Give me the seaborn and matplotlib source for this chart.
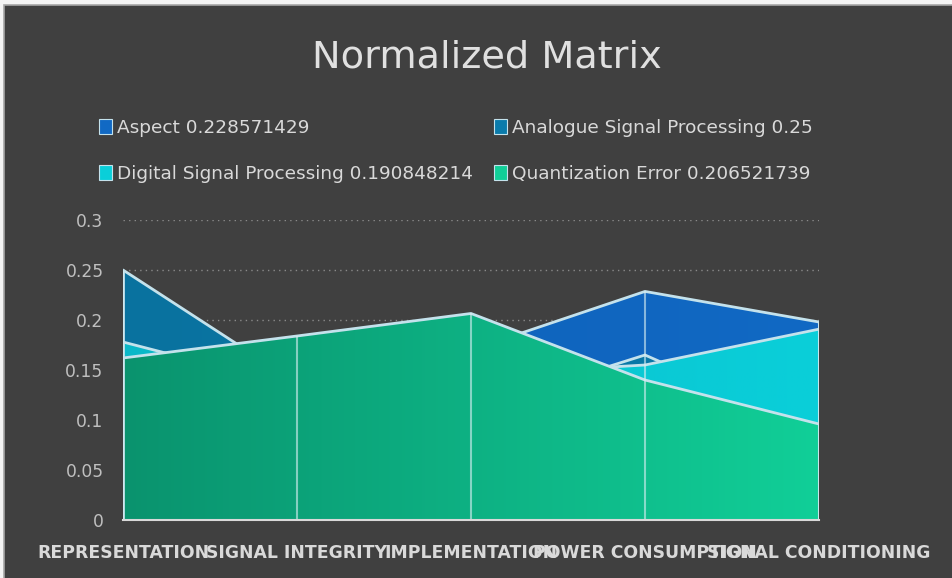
import numpy as np
import pandas as pd
import seaborn as sns
import matplotlib.pyplot as plt
from matplotlib.patches import Patch, Rectangle
from matplotlib.colors import LinearSegmentedColormap

categories = ["REPRESENTATION", "SIGNAL INTEGRITY", "IMPLEMENTATION",
              "POWER CONSUMPTION", "SIGNAL CONDITIONING"]
aspect = [0.170, 0.150, 0.170, 0.228571429, 0.198]
analogue = [0.250, 0.137, 0.110, 0.165, 0.088]
digital = [0.178, 0.133, 0.145, 0.155, 0.190848214]
quantization = [0.162, 0.184, 0.206521739, 0.140, 0.096]

names = ["Aspect 0.228571429", "Analogue Signal Processing 0.25",
         "Digital Signal Processing 0.190848214", "Quantization Error 0.206521739"]
values = [aspect, analogue, digital, quantization]
# left / right colours of the horizontal gradient of each area
grads = [("#0e5fb6", "#1169c4"), ("#09729f", "#0a7bab"),
         ("#0ab8c8", "#0acfd9"), ("#0a936e", "#11cf98")]

bg = "#404040"
edge = "#c4e2ec"

sns.set_theme(style="dark")
plt.rcParams["font.family"] = ["DejaVu Sans"]

fig = plt.figure(figsize=(9.53, 5.78), dpi=100, facecolor="#f4f4f4")
# chart area with a thin border, small light margin on top and left
fig.patches.append(Rectangle((4 / 953, -0.01), 1.0, 1 - 5 / 578 + 0.01,
                             transform=fig.transFigure, facecolor=bg,
                             edgecolor="#a6a6a6", lw=1.2, zorder=-10))

ax = fig.add_axes([123 / 953, 58 / 578, 696 / 953, 300 / 578])
ax.set_facecolor(bg)

x = np.arange(len(categories))
df = pd.DataFrame({"category": categories})

for i, (name, vals, (c0, c1)) in enumerate(zip(names, values, grads)):
    z = 2 + i * 3
    poly = ax.fill_between(x, 0, vals, facecolor="none", edgecolor="none", zorder=z)
    cmap = LinearSegmentedColormap.from_list("g%d" % i, [c0, c1])
    img = ax.imshow(np.linspace(0, 1, 256).reshape(1, -1), cmap=cmap, aspect="auto",
                    extent=[0, len(categories) - 1, 0, 0.3], zorder=z)
    img.set_clip_path(poly.get_paths()[0], transform=ax.transData)
    sns.lineplot(x=x, y=vals, ax=ax, color=edge, lw=2, zorder=z + 1)
    ax.vlines([0, len(categories) - 1], 0, [vals[0], vals[-1]], color=edge, lw=2, zorder=z + 1)

# drop lines
tops = np.max(np.array(values), axis=0)
ax.vlines(x, 0, tops, color="#d8eef2", lw=1.5, alpha=0.6, zorder=20)

ax.set_xlim(0, len(categories) - 1)
ax.set_ylim(0, 0.3)
ax.set_yticks([0, 0.05, 0.1, 0.15, 0.2, 0.25, 0.3])
ax.set_yticklabels(["0", "0.05", "0.1", "0.15", "0.2", "0.25", "0.3"])
ax.set_xticks(x)
ax.set_xticklabels(categories, fontweight="bold")
ax.tick_params(axis="y", colors="#bfbfbf", labelsize=12.3, length=0, pad=14)
ax.tick_params(axis="x", colors="#d9d9d9", labelsize=12.4, length=0, pad=17)
ax.yaxis.grid(True, color="#8a8a8a", linestyle=(0, (1, 3)), lw=1)
ax.xaxis.grid(False)
ax.set_axisbelow(True)
for s in ["top", "right", "left"]:
    ax.spines[s].set_visible(False)
ax.spines["bottom"].set_color("#d9d9d9")
ax.spines["bottom"].set_linewidth(1.5)
ax.spines["bottom"].set_zorder(25)
ax.set_xlabel("")
ax.set_ylabel("")

fig.text(0.511, 0.90, "Normalized Matrix", ha="center", va="center",
         fontsize=27.5, color="#e0e0e0")

handles = [Patch(facecolor=grads[k][1], edgecolor=edge, lw=0.8) for k in range(4)]
order = [0, 2, 1, 3]
leg = fig.legend([handles[k] for k in order], [names[k] for k in order],
                 loc="upper left", bbox_to_anchor=(99 / 953, 1 - 119 / 578), ncol=2,
                 frameon=False, fontsize=13.3, labelcolor="#d9d9d9",
                 handlelength=0.7, handleheight=0.9, handletextpad=0.3,
                 columnspacing=1.1, labelspacing=1.5, borderaxespad=0, borderpad=0)

fig.savefig("out.png", dpi=100, facecolor=fig.get_facecolor())
